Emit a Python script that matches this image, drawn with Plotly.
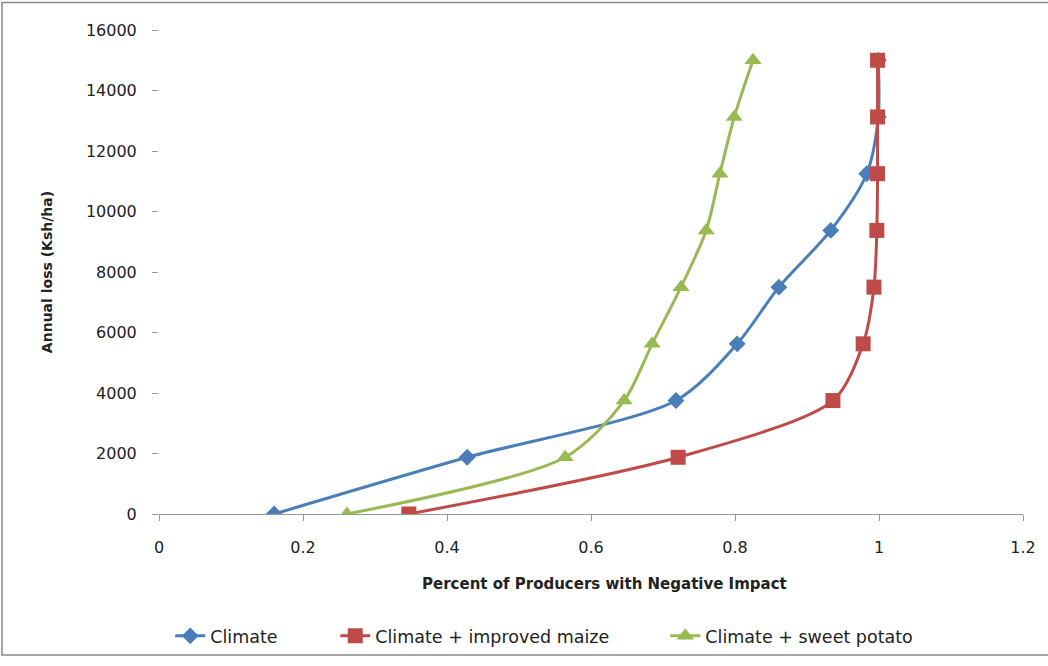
import plotly.graph_objects as go

loss = [0, 1875, 3750, 5625, 7500, 9375, 11250, 13125, 15000]
climate = [0.160, 0.428, 0.718, 0.803, 0.861, 0.933, 0.983, 0.999, 0.999]
maize = [0.347, 0.721, 0.936, 0.978, 0.993, 0.997, 0.998, 0.998, 0.998]
potato = [0.261, 0.564, 0.646, 0.685, 0.725, 0.760, 0.779, 0.799, 0.825]

FONT = "DejaVu Sans, Liberation Sans, sans-serif"

fig = go.Figure()
series = [
    ("Climate", climate, "#4A7EBB", "diamond", 13, "legend"),
    ("Climate + improved maize", maize, "#BE4B48", "square", 15, "legend2"),
    ("Climate + sweet potato", potato, "#98B954", "triangle-up", 15, "legend3"),
]
for name, xs, col, sym, sz, lg in series:
    fig.add_trace(go.Scatter(
        x=xs, y=loss, name=name, mode="lines+markers", legend=lg,
        line=dict(color=col, width=3, shape="spline", smoothing=0.8),
        marker=dict(symbol=sym, size=sz, color=col),
    ))

leg = dict(orientation="h", y=-0.252, yanchor="middle", xanchor="left",
           font=dict(size=17.5), bgcolor="rgba(0,0,0,0)")

fig.update_layout(
    width=1048, height=666,
    margin=dict(l=159, r=25, t=30, b=145),
    paper_bgcolor="white", plot_bgcolor="white",
    font=dict(family=FONT, size=16, color="#222"),
    showlegend=True,
    legend=dict(leg, x=0.013),
    legend2=dict(leg, x=0.204),
    legend3=dict(leg, x=0.586),
    xaxis=dict(range=[0, 1.2], dtick=0.2, showgrid=False, zeroline=False,
               showline=True, linecolor="#999", linewidth=1,
               ticks="outside", tickcolor="#999", ticklen=6, automargin=False,
               ticklabelstandoff=13, tickformat="~g", tickfont=dict(size=16)),
    yaxis=dict(range=[0, 16000], dtick=2000, showgrid=False, zeroline=False,
               showline=False, ticks="outside", tickcolor="#999", ticklen=6,
               ticklabelstandoff=12, tickformat="d", automargin=False,
               tickfont=dict(size=16),
               title=dict(text="<b>Annual loss (Ksh/ha)</b>", font=dict(size=14), standoff=29)),
)

fig.add_annotation(text="<b>Percent of Producers with Negative Impact</b>",
                   xref="paper", yref="paper", x=(604 - 159) / 864, y=-71 / 491,
                   showarrow=False, font=dict(size=15), xanchor="center", yanchor="middle")

fig.add_shape(type="rect", xref="paper", yref="paper",
              x0=-157 / 864, x1=1023 / 864, y0=-143 / 491, y1=1 + 28 / 491,
              line=dict(color="#888", width=1.5))

fig.write_html("out.html", config={"displayModeBar": False},
               post_script="document.body.style.margin='0';"
                           "document.body.style.overflow='hidden';"
                           "document.documentElement.style.overflow='hidden';")
